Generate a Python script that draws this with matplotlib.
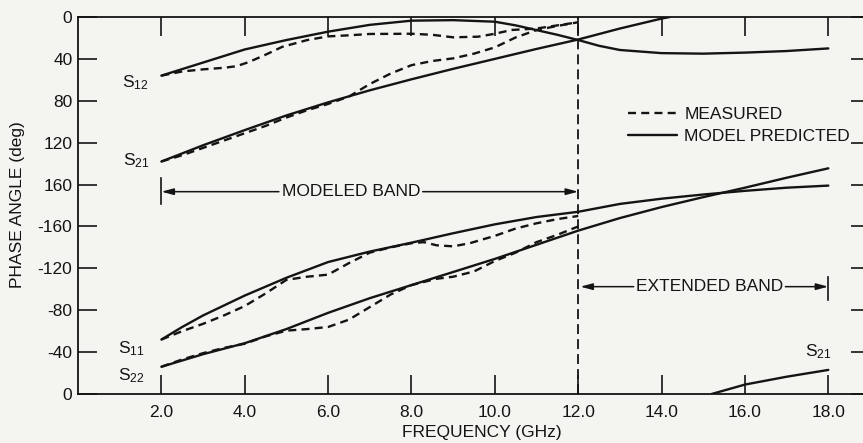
import numpy as np
import matplotlib.pyplot as plt

plt.rcParams['font.family'] = ['Liberation Sans', 'DejaVu Sans']
plt.rcParams['mathtext.default'] = 'regular'

ink = '#141414'
paper = '#f4f4f1'
fs = 12.5

# Phase runs down a wrapped scale: 0..180 in the upper half, -180..0 in the lower half.
# Values are positions on that scale in degrees (0 = top edge, 360 = bottom edge).

# S12
s12_model_f = [2.0, 3.0, 4.0, 5.0, 6.0, 7.0, 8.0, 9.0, 10.0, 10.5, 11.0, 11.5, 12.0,
               12.5, 13.0, 14.0, 15.0, 16.0, 17.0, 18.0]
s12_model = [56, 43.5, 31, 22, 14, 7.5, 3.5, 3, 4.5, 8, 12.5, 17, 22,
             27.5, 31.5, 34.5, 35, 34, 32.5, 30]
s12_meas_f = [2.0, 2.5, 3.0, 3.5, 3.8, 4.1, 4.5, 4.9, 5.5, 6.0, 6.5, 7.0, 8.0, 8.5,
              9.0, 9.6, 10.0, 10.4, 11.0, 11.5, 12.0]
s12_meas = [56, 52, 50, 48.5, 47, 43, 36, 28.5, 22, 18.5, 17.5, 16.2, 16, 17,
            19.4, 18.8, 16, 12.4, 11, 8, 5]

# S21 (upper trace, then the part that wraps past 0)
s21_model_f = [2.0, 3.0, 4.0, 5.0, 6.0, 7.0, 8.0, 9.0, 10.0, 11.0, 12.0, 13.0, 14.0, 14.2]
s21_model = [138, 122.5, 108, 94, 81.5, 70, 59.5, 49.5, 40, 30.5, 21.5, 11, 1.5, 0]
s21_wrap_f = [15.2, 16.0, 17.0, 18.0]
s21_wrap = [360, 351, 343.5, 337]
s21_meas_f = [2.0, 2.5, 3.0, 3.5, 4.0, 4.5, 5.0, 5.5, 6.0, 6.5, 7.0, 7.5, 8.0, 8.5,
              9.0, 9.5, 10.0, 10.5, 11.0, 11.5, 12.0]
s21_meas = [138, 132, 125, 118, 111, 104, 96, 89, 83, 76, 64, 54, 46, 42,
            39.5, 35, 29, 19.5, 12.5, 8.5, 5]

# S11
s11_model_f = [2.0, 2.5, 3.0, 4.0, 5.0, 6.0, 7.0, 8.0, 9.0, 10.0, 11.0, 12.0,
               13.0, 14.0, 15.0, 16.0, 17.0, 18.0]
s11_model = [308, 296, 285, 266, 249, 234, 224, 215.5, 206.5, 198, 191, 186,
             178.5, 173.5, 169.5, 166, 163, 161]
s11_meas_f = [2.0, 2.5, 3.0, 3.5, 4.0, 4.5, 5.0, 5.5, 6.0, 6.5, 7.0, 7.5, 8.0, 8.3,
              8.6, 9.0, 9.4, 10.0, 10.5, 11.0, 11.5, 12.0]
s11_meas = [308, 300, 293, 285, 276, 264, 251, 248, 246, 235, 225, 220, 216, 215,
            218, 219, 216, 209, 202, 197, 193, 190]

# S22
s22_model_f = [2.0, 2.5, 3.0, 4.0, 5.0, 6.0, 7.0, 8.0, 9.0, 10.0, 11.0, 12.0,
               13.0, 14.0, 15.0, 16.0, 17.0, 18.0]
s22_model = [334, 328, 322, 311.5, 298, 282.5, 268.5, 256, 243.5, 231, 217.5, 204,
             192, 181.5, 172, 163, 153.5, 144.5]
s22_meas_f = [2.0, 2.5, 3.0, 3.5, 4.0, 4.5, 5.0, 5.5, 6.0, 6.5, 7.0, 7.5, 8.0, 8.6,
              9.0, 9.5, 10.0, 10.5, 11.0, 11.5, 12.0]
s22_meas = [334, 327, 321, 316, 312, 305, 299.5, 298, 296, 289, 277, 265, 256, 250,
            248, 243, 233, 225, 215, 208, 200]

modeled_band = (2.0, 12.0)
extended_band = (12.0, 18.0)

freq_ticks = [2, 4, 6, 8, 10, 12, 14, 16, 18]
phase_ticks = [0, 40, 80, 120, 160, 200, 240, 280, 320, 360]
phase_labels = ['0', '40', '80', '120', '160', '-160', '-120', '-80', '-40', '0']

fig = plt.figure(figsize=(8.63, 4.43), dpi=100, facecolor=paper)
ax = fig.add_axes([78 / 863, 1 - 394 / 443, 792 / 863, 377 / 443])
ax.set_facecolor(paper)

solid = dict(color=ink, lw=1.7, solid_capstyle='round')
dashed = dict(color=ink, lw=1.7, linestyle=(0, (3.4, 2.2)))

model_line, = ax.plot(s12_model_f, s12_model, **solid)
ax.plot(s21_model_f, s21_model, **solid)
ax.plot(s21_wrap_f, s21_wrap, **solid)
ax.plot(s11_model_f, s11_model, **solid)
ax.plot(s22_model_f, s22_model, **solid)

meas_line, = ax.plot(s12_meas_f, s12_meas, **dashed)
ax.plot(s21_meas_f, s21_meas, **dashed)
ax.plot(s11_meas_f, s11_meas, **dashed)
ax.plot(s22_meas_f, s22_meas, **dashed)

# band edge at 12 GHz
ax.axvline(modeled_band[1], color=ink, lw=1.3, linestyle=(0, (5.5, 2.8)))

ax.set_xlim(0, 19)
ax.set_ylim(360, 0)
ax.set_xticks(freq_ticks)
ax.set_xticklabels(['%.1f' % f for f in freq_ticks])
ax.set_yticks(phase_ticks)
ax.set_yticklabels(phase_labels)
ax.tick_params(direction='in', length=13.7, width=1.2, color=ink,
               top=True, right=True, labelsize=fs, labelcolor=ink)
ax.tick_params(axis='x', pad=8)
ax.tick_params(axis='y', pad=4)
for side in ['left', 'bottom', 'top']:
    ax.spines[side].set_linewidth(1.3)
    ax.spines[side].set_color(ink)
ax.spines['right'].set_visible(False)

# band dimension lines
arrow = dict(arrowstyle='-|>,head_length=0.6,head_width=0.16', color=ink, lw=1.1,
             shrinkA=0, shrinkB=0, mutation_scale=12)
y_mb = 166.8
ax.plot([modeled_band[0]] * 2, [154, 178.5], color=ink, lw=1.2)
ax.text(6.55, y_mb, 'MODELED BAND', ha='center', va='center', fontsize=fs, color=ink)
ax.annotate('', xy=(modeled_band[0], y_mb), xytext=(4.82, y_mb), arrowprops=arrow)
ax.annotate('', xy=(modeled_band[1], y_mb), xytext=(8.27, y_mb), arrowprops=arrow)

y_eb = 257.5
ax.plot([extended_band[1]] * 2, [248, 270], color=ink, lw=1.2)
ax.text(15.15, y_eb, 'EXTENDED BAND', ha='center', va='center', fontsize=fs, color=ink)
ax.annotate('', xy=(extended_band[0] + 0.05, y_eb), xytext=(13.33, y_eb), arrowprops=arrow)
ax.annotate('', xy=(extended_band[1], y_eb), xytext=(16.97, y_eb), arrowprops=arrow)

# trace names
ax.text(1.05, 67, 'S$_{12}$', fontsize=fs, color=ink, va='baseline')
ax.text(1.09, 142, 'S$_{21}$', fontsize=fs, color=ink, va='baseline')
ax.text(0.97, 321, 'S$_{11}$', fontsize=fs, color=ink, va='baseline')
ax.text(0.96, 346.5, 'S$_{22}$', fontsize=fs, color=ink, va='baseline')
ax.text(17.45, 324.3, 'S$_{21}$', fontsize=fs, color=ink, va='baseline')

ax.legend([meas_line, model_line], ['MEASURED', 'MODEL PREDICTED'],
          loc='upper left', bbox_to_anchor=(0.6944, 0.762), frameon=False,
          fontsize=fs, handlelength=2.8, handletextpad=0.45, labelspacing=0.42,
          borderpad=0, borderaxespad=0, labelcolor=ink)

fig.text(482 / 863, 1 - 433 / 443, 'FREQUENCY (GHz)', ha='center', va='center',
         fontsize=fs, color=ink)
fig.text(17.5 / 863, 1 - 205 / 443, 'PHASE ANGLE (deg)', ha='center', va='center',
         rotation=90, fontsize=fs, color=ink)

fig.savefig('out.png', dpi=100, facecolor=paper)
